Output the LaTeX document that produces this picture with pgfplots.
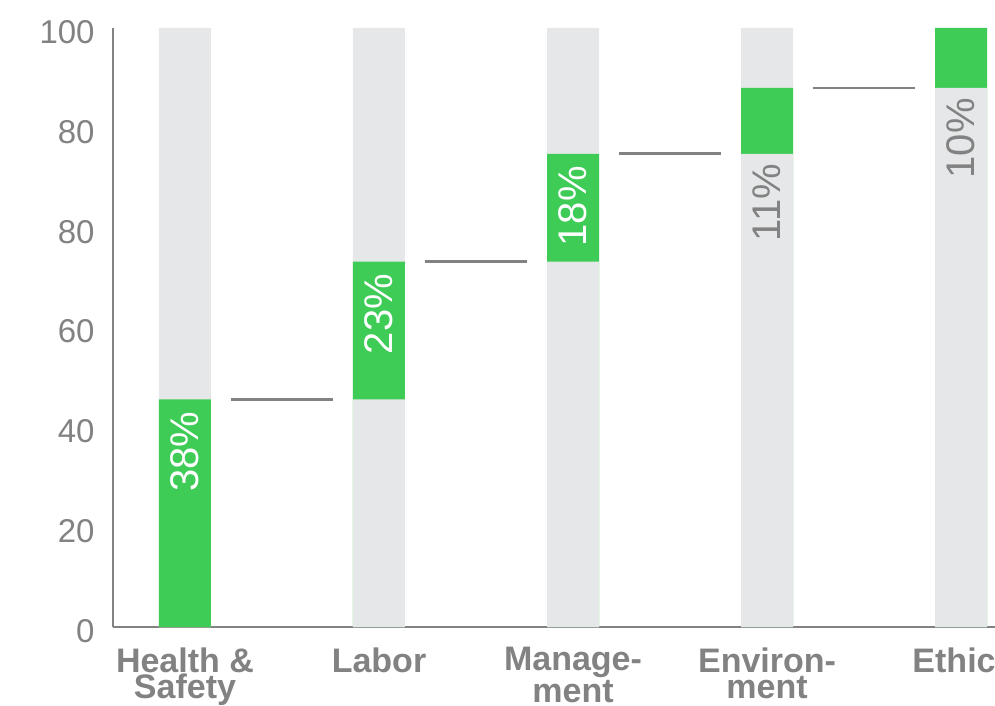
\documentclass[border=0pt]{standalone}
\usepackage{pgfplots}
\usepackage{pgfplotstable}
\pgfplotsset{compat=1.18}
\usepackage{fontspec}
\setmainfont{Liberation Sans}

\definecolor{barGreen}{HTML}{3ECC57}
\definecolor{trackGrey}{HTML}{E6E7E8}
\definecolor{inkGrey}{HTML}{828282}

% Waterfall: each category adds its share on top of the previous total
\pgfplotstableread{
x prev cum top share
0 0  38  100 38
1 38 61  100 23
2 61 79  100 18
3 79 90  100 11
4 90 100 100 10
}\waterfall

\begin{document}
\begin{tikzpicture}
\begin{axis}[
  scale only axis, width=441pt, height=299.5pt,
  xmin=-0.371, xmax=4.175, ymin=0, ymax=100,
  axis x line=bottom, axis y line=left,
  axis line style={draw=inkGrey, line width=1.2pt, -},
  major tick length=0pt,
  clip=false,
  /pgf/number format/assume math mode=true,
  xtick={0,1,2,3,4},
  xticklabels={Health \&\\Safety, Labor, Manage-\\ment, Environ-\\ment, Ethic\hspace*{7pt}},
  xticklabel style={align=center, text=inkGrey, font=\bfseries\fontsize{17}{13}\selectfont, inner sep=0pt, yshift=-10pt},
  ytick={0,16.6667,33.3333,50,66.6667,83.3333,100},
  yticklabels={0,20,40,60,80,80,100},
  yticklabel style={text=inkGrey, font=\fontsize{16.5}{20}\selectfont, inner sep=0pt, xshift=-9pt, yshift=-2pt},
]
% full-height tracks
\addplot[ybar, bar width=26pt, bar shift=0pt, fill=trackGrey, draw=none] table[x=x, y=top] {\waterfall};
% green segment: draw up to running total, then cover below the previous total
\addplot[ybar, bar width=26pt, bar shift=0pt, fill=barGreen, draw=none] table[x=x, y=cum] {\waterfall};
\addplot[ybar, bar width=26pt, bar shift=0pt, fill=trackGrey, draw=none] table[x=x, y=prev] {\waterfall};

% connectors between consecutive bars
\addplot[inkGrey, line width=1.3pt] coordinates {(0.235,38) (0.765,38)};
\addplot[inkGrey, line width=1.3pt] coordinates {(1.235,61) (1.765,61)};
\addplot[inkGrey, line width=1.3pt] coordinates {(2.235,79) (2.765,79)};
\addplot[inkGrey, line width=1.3pt] coordinates {(3.235,90) (3.765,90)};

% share labels: inside the green segment for the tall ones
\addplot[draw=none, mark=none, skip coords between index={3}{5},
  point meta=explicit,
  nodes near coords={\pgfmathprintnumber[fixed, precision=0]{\pgfplotspointmeta}\%},
  every node near coord/.append style={rotate=90, anchor=east, text=white, font=\fontsize{20}{24}\selectfont, inner sep=6pt}]
  table[x=x, y=cum, meta=share] {\waterfall};
% below the green segment for the short ones
\addplot[draw=none, mark=none, skip coords between index={0}{3},
  point meta=explicit,
  nodes near coords={\pgfmathprintnumber[fixed, precision=0]{\pgfplotspointmeta}\%},
  every node near coord/.append style={rotate=90, anchor=east, text=inkGrey, font=\fontsize{20}{24}\selectfont, inner sep=5pt}]
  table[x=x, y=prev, meta=share] {\waterfall};
\end{axis}
\pgfresetboundingbox
\path ([xshift=-56.5pt, yshift=-39.5pt]current axis.south west) rectangle ([xshift=441pt, yshift=313.5pt]current axis.south west);
\end{tikzpicture}
\end{document}
